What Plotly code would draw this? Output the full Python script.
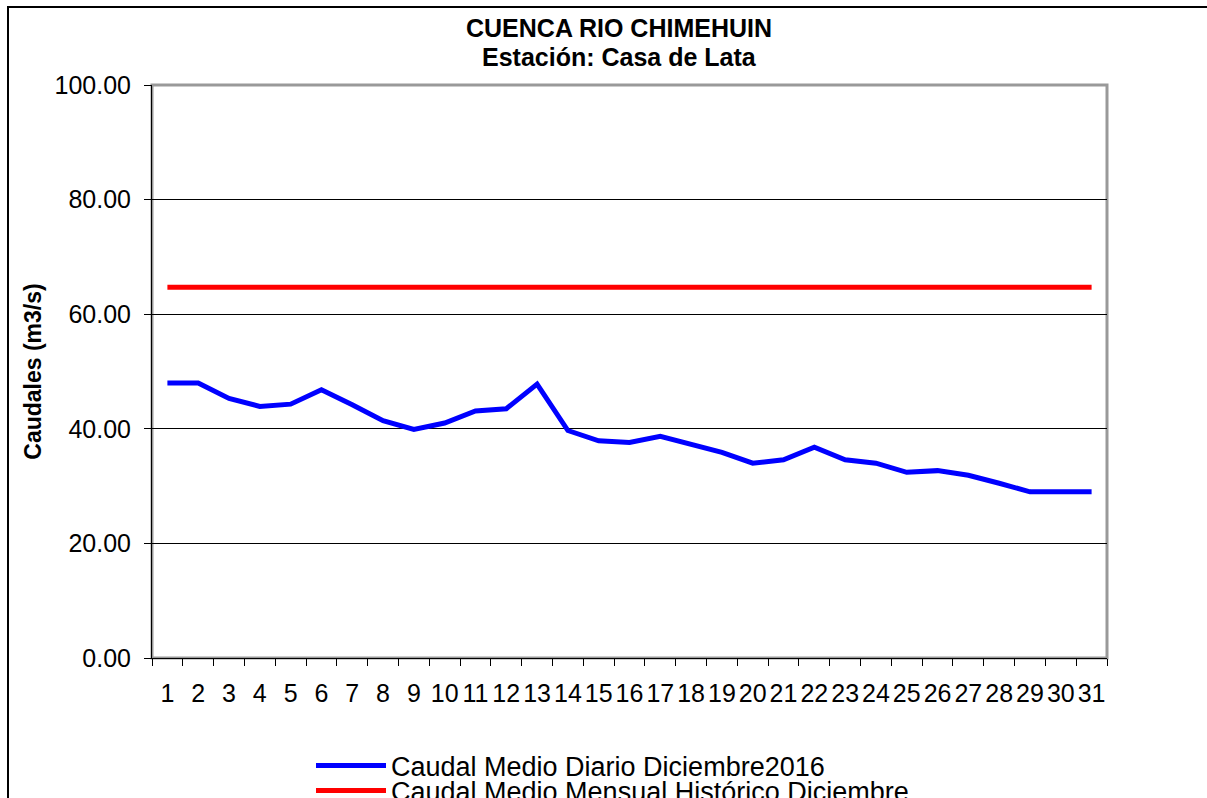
import plotly.graph_objects as go

days = [str(d) for d in range(1, 32)]
caudal_diario = [48.0, 48.0, 45.3, 43.9, 44.3, 46.8, 44.2, 41.4, 39.9, 41.0,
                 43.1, 43.5, 47.8, 39.7, 37.9, 37.6, 38.7, 37.3, 35.9, 34.0,
                 34.6, 36.8, 34.6, 34.0, 32.4, 32.7, 31.9, 30.5, 29.0, 29.0, 29.0]
caudal_historico = [64.7] * 31
y_ticks = [0, 20, 40, 60, 80, 100]

W, H = 1207, 798
L, R, T, B = 152, 1107, 85, 658
pw, ph = R - L, B - T

def px_x(x):
    return (x - L) / pw

def px_y(y):
    return (B - y) / ph

FONT = "Liberation Sans, Arial, sans-serif"

fig = go.Figure()
fig.add_trace(go.Scatter(x=days, y=caudal_diario, mode="lines",
                         line=dict(color="#0000FF", width=5),
                         name="Caudal Medio Diario Diciembre2016",
                         legend="legend"))
fig.add_trace(go.Scatter(x=days, y=caudal_historico, mode="lines",
                         line=dict(color="#FF0000", width=5),
                         name="Caudal Medio Mensual Histórico Diciembre",
                         legend="legend2"))

leg_common = dict(xanchor="left", yanchor="middle",
                  font=dict(size=27, family=FONT, color="black"), itemwidth=70,
                  bgcolor="rgba(0,0,0,0)", borderwidth=0)

fig.update_layout(
    width=W, height=H,
    margin=dict(l=L, r=W - R, t=T, b=H - B, autoexpand=False),
    paper_bgcolor="white", plot_bgcolor="white",
    font=dict(family=FONT, color="black", size=25),
    showlegend=True,
    legend=dict(x=px_x(311), y=px_y(766), **leg_common),
    legend2=dict(x=px_x(311), y=px_y(791), **leg_common),
    xaxis=dict(type="category", range=[-0.5, 30.5], tickson="boundaries",
               ticks="outside", ticklen=7, tickcolor="black", tickangle=0,
               showline=True, linecolor="black", linewidth=1,
               showgrid=False, tickfont=dict(size=25), ticklabelstandoff=13,
               fixedrange=True),
    yaxis=dict(range=[0, 100], tickvals=y_ticks, tickformat=".2f",
               ticks="outside", ticklen=7, tickcolor="black",
               showline=True, linecolor="black", linewidth=1,
               showgrid=True, gridcolor="black", gridwidth=1,
               zeroline=False, tickfont=dict(size=25), ticklabelstandoff=8,
               title=dict(text="<b>Caudales (m3/s)</b>", font=dict(size=23), standoff=6)),
    shapes=[
        dict(type="rect", xref="paper", yref="paper", x0=0, x1=1, y0=0, y1=1,
             line=dict(color="#999999", width=3), layer="below"),
        dict(type="rect", xref="paper", yref="paper",
             x0=px_x(8), x1=px_x(1300), y0=px_y(900), y1=px_y(7),
             line=dict(color="black", width=2), layer="below"),
    ],
    annotations=[
        dict(text="<b>CUENCA RIO CHIMEHUIN</b>", xref="paper", yref="paper",
             x=px_x(619), y=px_y(28), xanchor="center", yanchor="middle",
             showarrow=False, font=dict(size=25)),
        dict(text="<b>Estación: Casa de Lata</b>", xref="paper", yref="paper",
             x=px_x(619), y=px_y(57), xanchor="center", yanchor="middle",
             showarrow=False, font=dict(size=25)),
    ],
)

fig.write_html("out.html", config={"displayModeBar": False},
               post_script="document.body.style.margin='0px';")
